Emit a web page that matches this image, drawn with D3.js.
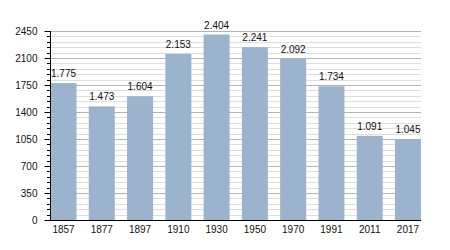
<!DOCTYPE html>
<html><head><meta charset="utf-8">
<script src="https://cdn.jsdelivr.net/npm/d3@7"></script>
<style>body{margin:0;background:#fff}svg{display:block}text{font-family:"Liberation Sans",Arial,sans-serif;fill:#111}</style>
</head><body>
<script>
const years = ["1857","1877","1897","1910","1930","1950","1970","1991","2011","2017"];
const population = [1775,1473,1604,2153,2404,2241,2092,1734,1091,1045];
const valueLabels = ["1.775","1.473","1.604","2.153","2.404","2.241","2.092","1.734","1.091","1.045"];
const yTicks = [0,350,700,1050,1400,1750,2100,2450];
const yMinor = d3.range(0,2451,70);

const W=450,H=250;
const svg=d3.select("body").append("svg").attr("width",W).attr("height",H);
const x=d3.scaleBand().domain(years).range([50.5,421]).paddingInner(0.32).paddingOuter(0);
const y=d3.scaleLinear().domain([0,2450]).range([220,31]);

// minor grid
svg.append("g").selectAll("line").data(yMinor.filter(v=>v%350!==0)).join("line")
 .attr("x1",50).attr("x2",421).attr("y1",d=>Math.round(y(d))+0.5).attr("y2",d=>Math.round(y(d))+0.5)
 .attr("stroke","#dedede").attr("stroke-width",1);
// major grid
svg.append("g").selectAll("line").data(yTicks.filter(v=>v>0)).join("line")
 .attr("x1",50).attr("x2",421).attr("y1",d=>Math.round(y(d))+0.5).attr("y2",d=>Math.round(y(d))+0.5)
 .attr("stroke","#b4b4b4").attr("stroke-width",1);

// bars
svg.append("g").selectAll("rect").data(population).join("rect")
 .attr("x",(d,i)=>x(years[i])).attr("width",x.bandwidth())
 .attr("y",d=>y(d)).attr("height",d=>y(0)-y(d)).attr("fill","#9cb3cd");

// value labels
svg.append("g").selectAll("text").data(population).join("text")
 .attr("x",(d,i)=>x(years[i])+x.bandwidth()/2).attr("y",d=>y(d)-6)
 .attr("text-anchor","middle").attr("font-size","10px").text((d,i)=>valueLabels[i]);

// y axis minor ticks
svg.append("g").selectAll("line").data(yMinor).join("line")
 .attr("x1",47).attr("x2",50).attr("y1",d=>Math.round(y(d))+0.5).attr("y2",d=>Math.round(y(d))+0.5)
 .attr("stroke","#000");
const yAxis=d3.axisLeft(y).tickValues(yTicks).tickSize(6).tickPadding(7).tickFormat(d3.format("d"));
const ga=svg.append("g").attr("transform","translate(50.5,0)").call(yAxis);
ga.select(".domain").attr("d","M0,31V220.5");
ga.selectAll("text").attr("font-size","10px").style("font-family","Liberation Sans, Arial, sans-serif");
ga.selectAll(".tick").attr("transform",d=>`translate(0,${Math.round(y(d))+0.5})`);

// x axis
const xAxis=d3.axisBottom(x).tickSize(0).tickPadding(5);
const gx=svg.append("g").attr("transform","translate(0,220.5)").call(xAxis);
gx.select(".domain").attr("d","M50,0H421");
gx.selectAll("text").attr("font-size","10px").style("font-family","Liberation Sans, Arial, sans-serif");
</script>
</body></html>
